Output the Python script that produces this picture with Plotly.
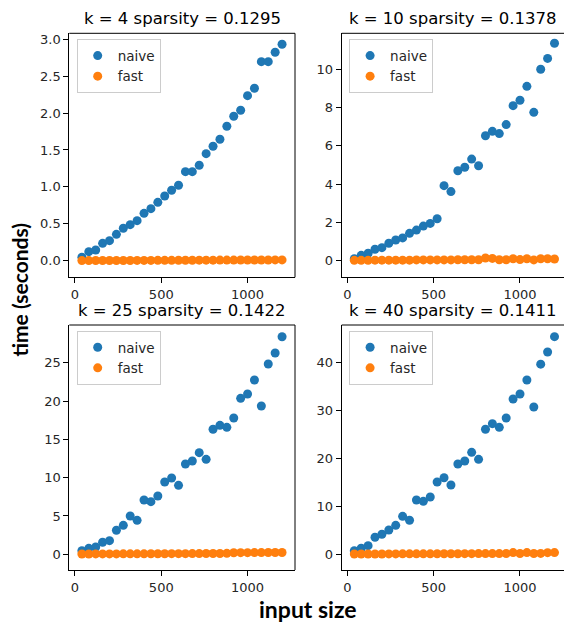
import plotly.graph_objects as go

W, H = 564, 623

# ---- data -------------------------------------------------------------
input_size = [40, 80, 120, 160, 200, 240, 280, 320, 360, 400,
              440, 480, 520, 560, 600, 640, 680, 720, 760, 800,
              840, 880, 920, 960, 1000, 1040, 1080, 1120, 1160, 1200]

titles = ["k = 4 sparsity = 0.1295", "k = 10 sparsity = 0.1378",
          "k = 25 sparsity = 0.1422", "k = 40 sparsity = 0.1411"]

naive_k4 = [0.046, 0.122, 0.145, 0.235, 0.271, 0.357, 0.439, 0.488, 0.542, 0.642,
            0.705, 0.791, 0.877, 0.954, 1.022, 1.206, 1.206, 1.293, 1.450, 1.550,
            1.645, 1.821, 1.957, 2.038, 2.236, 2.336, 2.697, 2.697, 2.824, 2.932]
fast_k4 = [0.001, 0.001, 0.002, 0.002, 0.002, 0.003, 0.003, 0.003, 0.004, 0.004,
           0.004, 0.005, 0.005, 0.005, 0.006, 0.006, 0.006, 0.007, 0.007, 0.007,
           0.008, 0.008, 0.008, 0.009, 0.009, 0.009, 0.010, 0.010, 0.011, 0.011]

naive_k10 = [0.10, 0.28, 0.39, 0.60, 0.68, 0.91, 1.08, 1.19, 1.43, 1.60,
             1.81, 1.95, 2.19, 3.92, 3.61, 4.70, 4.88, 5.31, 4.96, 6.53,
             6.76, 6.64, 7.11, 8.10, 8.38, 9.11, 7.75, 10.00, 10.57, 11.36]
fast_k10 = [0.02, 0.02, 0.02, 0.03, 0.03, 0.03, 0.03, 0.03, 0.03, 0.04,
            0.04, 0.04, 0.04, 0.04, 0.04, 0.05, 0.05, 0.05, 0.05, 0.14,
            0.12, 0.05, 0.05, 0.10, 0.06, 0.10, 0.04, 0.10, 0.10, 0.09]

naive_k25 = [0.47, 0.78, 0.95, 1.57, 1.78, 3.13, 3.78, 5.00, 4.43, 7.09,
             6.87, 7.61, 9.43, 9.96, 9.00, 11.78, 12.17, 13.26, 12.39, 16.31,
             16.83, 16.57, 17.78, 20.35, 20.92, 22.74, 19.35, 24.83, 26.27, 28.39]
fast_k25 = [0.04, 0.04, 0.05, 0.05, 0.05, 0.05, 0.06, 0.06, 0.06, 0.06,
            0.07, 0.07, 0.07, 0.08, 0.08, 0.08, 0.09, 0.09, 0.10, 0.10,
            0.11, 0.12, 0.20, 0.21, 0.21, 0.22, 0.22, 0.23, 0.23, 0.24]

naive_k40 = [0.75, 1.25, 1.80, 3.55, 4.18, 5.07, 6.05, 7.93, 7.10, 11.34,
             11.06, 11.96, 15.09, 15.99, 14.47, 18.85, 19.48, 21.29, 19.83, 26.10,
             27.27, 26.51, 28.46, 32.42, 33.47, 36.39, 30.75, 39.69, 42.23, 45.43]
fast_k40 = [0.05, 0.06, 0.06, 0.07, 0.07, 0.08, 0.08, 0.09, 0.09, 0.10,
            0.10, 0.10, 0.11, 0.11, 0.12, 0.12, 0.13, 0.13, 0.14, 0.14,
            0.15, 0.15, 0.16, 0.35, 0.17, 0.36, 0.17, 0.18, 0.34, 0.36]

naive_series = [naive_k4, naive_k10, naive_k25, naive_k40]
fast_series = [fast_k4, fast_k10, fast_k25, fast_k40]

y_ticks = [[0, 0.5, 1.0, 1.5, 2.0, 2.5, 3.0],
           [0, 2, 4, 6, 8, 10],
           [0, 5, 10, 15, 20, 25],
           [0, 10, 20, 30, 40]]
y_ticktext = [["0.0", "0.5", "1.0", "1.5", "2.0", "2.5", "3.0"],
              ["0", "2", "4", "6", "8", "10"],
              ["0", "5", "10", "15", "20", "25"],
              ["0", "10", "20", "30", "40"]]
x_ticks = [0, 500, 1000]

# ---- layout geometry (pixels) -----------------------------------------
y_ranges = [[-0.225, 3.081], [-0.867, 11.88], [-2.05, 29.92], [-3.28, 47.87]]
x_range_left = [-33, 1275]
x_range_right = [-33, 1255]

# (left, right, top, bottom) of each plotting box in pixels
boxes = [(69.3, 295.0, 33.3, 277.3),
         (341.7, 564.0, 33.3, 277.3),
         (69.3, 295.0, 325.0, 570.0),
         (341.7, 564.0, 325.0, 570.0)]

BLUE = "#1f77b4"
ORANGE = "#ff7f0e"
TICK_FONT = dict(family="DejaVu Sans", size=13, color="#262626")


def px_x(p):
    return p / W


def px_y(p):
    return 1 - p / H


fig = go.Figure()
shapes = []
annotations = []

for i in range(4):
    n = i + 1
    sx = "" if n == 1 else str(n)
    xa, ya = "x" + sx, "y" + sx
    leg = "legend" + sx
    left, right, top, bottom = boxes[i]

    fig.add_trace(go.Scatter(
        x=input_size, y=naive_series[i], mode="markers", name="naive",
        marker=dict(color=BLUE, size=9), xaxis=xa, yaxis=ya,
        legend=leg, legendgroup="naive%d" % n))
    fig.add_trace(go.Scatter(
        x=input_size, y=fast_series[i], mode="markers", name="fast",
        marker=dict(color=ORANGE, size=9), xaxis=xa, yaxis=ya,
        legend=leg, legendgroup="fast%d" % n))

    common = dict(showline=True, linecolor="black", linewidth=1, mirror=False,
                  ticks="outside", ticklen=5, tickwidth=1, tickcolor="black",
                  showgrid=False, zeroline=False, tickfont=TICK_FONT)
    fig.layout["xaxis" + sx] = dict(
        domain=[px_x(left), px_x(right)], anchor=ya,
        range=x_range_left if i % 2 == 0 else x_range_right,
        tickmode="array", tickvals=x_ticks, ticktext=[str(v) for v in x_ticks],
        **common)
    fig.layout["yaxis" + sx] = dict(
        domain=[px_y(bottom), px_y(top)], anchor=xa, range=y_ranges[i],
        tickmode="array", tickvals=y_ticks[i], ticktext=y_ticktext[i],
        **common)

    # top spine, and right spine where the box is fully inside the canvas
    shapes.append(dict(type="line", xref=xa + " domain", yref=ya + " domain",
                       x0=0, x1=1, y0=1, y1=1,
                       line=dict(color="black", width=1)))
    if i % 2 == 0:
        shapes.append(dict(type="line", xref=xa + " domain", yref=ya + " domain",
                           x0=1, x1=1, y0=0, y1=1,
                           line=dict(color="black", width=1)))

    annotations.append(dict(
        text=titles[i], xref=xa + " domain", yref=ya + " domain",
        x=0.5, y=1, xanchor="center", yanchor="bottom", yshift=3,
        showarrow=False, font=dict(family="DejaVu Sans", size=16.5, color="black")))

    fig.layout[leg] = dict(
        x=px_x(left + 7.4), y=px_y(top + 6), xanchor="left", yanchor="top",
        bgcolor="rgba(255,255,255,0.8)", bordercolor="#cccccc", borderwidth=1,
        font=dict(family="DejaVu Sans", size=13.5, color="#262626"),
        traceorder="grouped", tracegroupgap=0, itemsizing="trace",
        entrywidth=55)

annotations.append(dict(
    text="<b>time (seconds)</b>", xref="paper", yref="paper",
    x=px_x(18.5), y=px_y(290), xanchor="center", yanchor="middle",
    textangle=-90, showarrow=False,
    font=dict(family="Lato", size=21, color="black")))
annotations.append(dict(
    text="<b>input size</b>", xref="paper", yref="paper",
    x=px_x(308), y=px_y(608.5), xanchor="center", yanchor="middle",
    showarrow=False, borderpad=0,
    font=dict(family="Lato", size=23, color="black")))

fig.update_layout(
    width=W, height=H, margin=dict(l=0, r=0, t=0, b=0),
    paper_bgcolor="white", plot_bgcolor="white",
    shapes=shapes, annotations=annotations, showlegend=True)

fig.write_html("out.html")
